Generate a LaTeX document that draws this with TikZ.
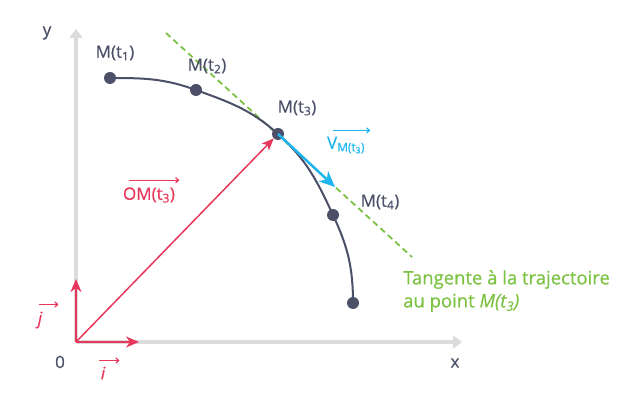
\documentclass[tikz,border=0pt]{standalone}
\usepackage{fontspec}
\setmainfont{Open Sans}[FakeBold=0.5]
\usetikzlibrary{positioning,calc,arrows.meta}
\definecolor{axis}{HTML}{DCDCDC}
\definecolor{traj}{HTML}{4B5068}
\definecolor{rouge}{HTML}{E8375C}
\definecolor{bleu}{HTML}{1FB5EE}
\definecolor{vert}{HTML}{7CC242}

\begin{document}
\begin{tikzpicture}[x=1pt, y=1pt,
  lbl/.style={font=\fontsize{17}{23}\selectfont, text=traj, inner sep=1pt},
  pt/.style={circle, fill=traj, minimum size=12pt, inner sep=0pt},
  axe/.style={draw=axis, line width=3.5pt, -{Triangle[length=9pt,width=13pt]}},
  base/.style={draw=rouge, line width=2.5pt, -{Stealth[length=13pt,width=11pt,inset=4pt]}},
  vbar/.style={line width=1.2pt, -{To[length=4pt,width=6pt]}}]
\useasboundingbox (0,0) rectangle (621,395);
% axes
\coordinate (O) at (76,53);
\coordinate (xtip) at (462,53);
\coordinate (ytip) at (76,366);
\draw[axe] (O) -- (xtip);
\draw[axe] (O) -- (ytip);
\node[lbl] (l0) at (60,33) {0};
\node[lbl] (lx) at (455,32) {x};
\node[lbl] (ly) at (47,362) {y};
% positions on the trajectory
\coordinate (m1) at (110,317);
\coordinate (m2) at (196,305);
\coordinate (m3) at (278,261);
\coordinate (m4) at (333,180);
\coordinate (m5) at (353,92);
% tangent at M(t3)
\coordinate (ta) at ($(m3)+(-112,101)$);
\coordinate (tb) at ($(m3)+(134,-123)$);
\draw[vert, line width=1.8pt, dash pattern=on 6pt off 4pt] (ta) -- (tb);
% trajectory
\draw[traj, line width=2pt] (m1) to[out=0,in=160] (m2) to[out=-20,in=138] (m3)
  to[out=-42,in=115] (m4) to[out=-65,in=90] (m5);
\foreach \i in {1,...,5} \node[pt] (p\i) at (m\i) {};
% vectors
\draw[rouge, line width=1.5pt, -{Stealth[length=12pt,width=10pt,inset=3pt]}] (O) -- (p3);
\coordinate (vtip) at (335,208);
\draw[bleu, line width=2.5pt, -{Stealth[length=16pt,width=14pt,inset=5pt]}] (p3.center) -- (vtip);
\coordinate (itip) at (139,53);
\coordinate (jtip) at (76,116);
\draw[base] (O) -- (itip);
\draw[base] (O) -- (jtip);
% labels
\node[lbl] (l1) at (115,342) {M(t\textsubscript{1})};
\node[lbl] (l2) at (207,329) {M(t\textsubscript{2})};
\node[lbl] (l3) at (297,287) {M(t\textsubscript{3})};
\node[lbl] (l4) at (380,193) {M(t\textsubscript{4})};
\node[lbl, text=bleu] (lV) at (346,250) {V\textsubscript{M(t\textsubscript{3})}};
\node[lbl, text=rouge] (lOM) at (149,200) {OM(t\textsubscript{3})};
\node[lbl, text=rouge] (lj) at (40,75) {\itshape j};
\node[lbl, text=rouge] (li) at (103,22) {\itshape i};
\foreach \n/\c/\a/\b/\h in {lOM/rouge/7/3/6, lV/bleu/7/4/5, lj/rouge/2/15/6, li/rouge/-1/13/5}
  \draw[vbar, \c] ($(\n.north west)+(\a,\h)$) -- ($(\n.north east)+(\b,\h)$);
\node[lbl, text=vert, font=\fontsize{18.5}{23}\selectfont, anchor=north west, align=left] (ltan) at (402,126)
  {Tangente à la trajectoire\\au point \textit{M(t\textsubscript{3})}};
\end{tikzpicture}
\end{document}
